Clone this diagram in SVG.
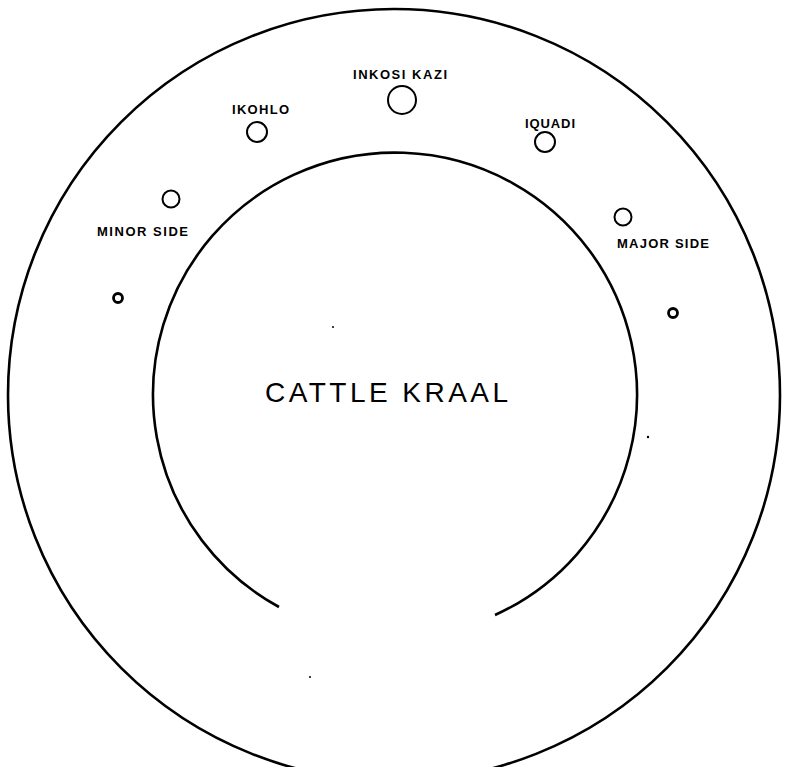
<svg xmlns="http://www.w3.org/2000/svg" width="789" height="767" viewBox="0 0 789 767">
<style>
.ring{fill:none;stroke:#000;stroke-width:2.6}
.hut{fill:none;stroke:#000;stroke-width:2}
.post{fill:none;stroke:#000;stroke-width:2.8}
.lbl{font-family:"Liberation Sans",Arial,sans-serif;font-weight:bold;font-size:13px;fill:#000}
.big{font-family:"Liberation Sans",Arial,sans-serif;font-size:28px;fill:#000}
.dot{fill:#000}
</style>
<rect width="789" height="767" fill="#fff"/>
<g id="connectors">
<circle class="ring" cx="394" cy="395" r="386"/>
</g>
<g id="cattle-kraal">
<path class="ring" d="M279,607 A242,242 0 1 1 495,615"/>
<text class="big" x="265" y="402" textLength="243" lengthAdjust="spacing">CATTLE KRAAL</text>
</g>
<g id="inkosi-kazi">
<circle class="hut" cx="402" cy="100" r="14"/>
<text class="lbl" x="353" y="79" textLength="94" lengthAdjust="spacing">INKOSI KAZI</text>
</g>
<g id="ikohlo">
<circle class="hut" cx="257" cy="132" r="10"/>
<text class="lbl" x="232" y="114" textLength="57" lengthAdjust="spacing">IKOHLO</text>
</g>
<g id="iquadi">
<circle class="hut" cx="545" cy="142" r="10"/>
<text class="lbl" x="525" y="128" textLength="50" lengthAdjust="spacing">IQUADI</text>
</g>
<g id="minor-side">
<circle class="hut" cx="171" cy="199" r="8.5"/>
<text class="lbl" x="97" y="236" textLength="91" lengthAdjust="spacing">MINOR SIDE</text>
</g>
<g id="major-side">
<circle class="hut" cx="623" cy="217" r="8.5"/>
<text class="lbl" x="617" y="248" textLength="92" lengthAdjust="spacing">MAJOR SIDE</text>
</g>
<g id="post-left">
<circle class="post" cx="118" cy="298" r="4.5"/>
</g>
<g id="post-right">
<circle class="post" cx="673" cy="313" r="4.5"/>
</g>
<circle class="dot" cx="333" cy="327" r="1"/>
<circle class="dot" cx="648" cy="437" r="1.2"/>
<circle class="dot" cx="310" cy="677" r="1"/>
</svg>
